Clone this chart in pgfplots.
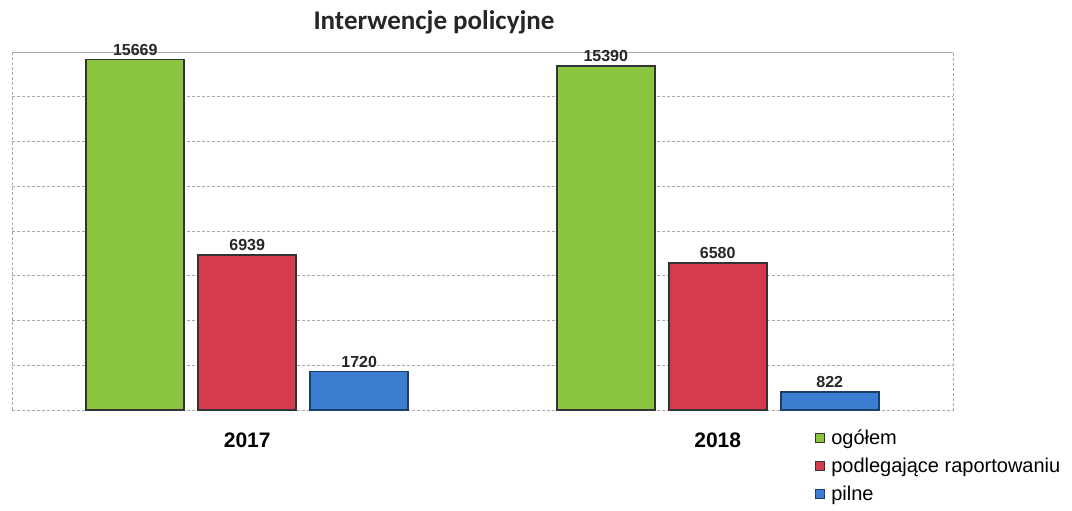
\documentclass[border=0pt]{standalone}
\usepackage{fontspec}
\setmainfont{Liberation Sans}
\newfontfamily\titlefont{Carlito}
\usepackage{pgfplots}
\pgfplotsset{compat=1.18}
\definecolor{ogol}{HTML}{8BC53F}
\definecolor{podl}{HTML}{D63A4F}
\definecolor{piln}{HTML}{3A7DD1}
\definecolor{gridc}{HTML}{A8A8A8}

\begin{document}
\begin{tikzpicture}
\useasboundingbox (-12pt,-101pt) rectangle (1060pt,410pt);
\begin{axis}[
  scale only axis, clip=false,
  width=941pt, height=358pt,
  ybar, bar width=98pt,
  xmin=-0.5, xmax=1.5,
  ymin=0, ymax=16000,
  xtick={0,1}, xticklabels={2017,2018},
  x tick label style={font=\fontsize{21}{24}\selectfont\bfseries, yshift=-19pt},
  ytick={0,2000,...,16000}, yticklabels={},
  scaled y ticks=false,
  major tick length=0pt,
  ymajorgrids, grid style={gridc, dash pattern=on 3pt off 2pt, line width=0.6pt},
  axis line style={gridc, dash pattern=on 3pt off 2pt, line width=0.6pt},
  nodes near coords,
  nodes near coords style={font=\fontsize{16}{19}\selectfont\bfseries, text=black!85, yshift=0pt},
  every node near coord/.append style={/pgf/number format/.cd, fixed, 1000 sep={}, assume math mode=true},
  legend style={at={(0.853,0)}, anchor=north west, yshift=-18pt, draw=none, fill=none,
    font=\fontsize{20}{23}\selectfont, row sep=8pt, inner sep=0pt},
  legend cell align=left,
  legend image code/.code={\draw[#1, line width=1pt] (0pt,-4.5pt) rectangle (9pt,4.5pt);
    \path (13pt,0pt);},
]
\addplot[fill=ogol, draw=black!80, line width=1.8pt, bar shift=-112pt] coordinates {(0,15669) (1,15390)};
\addlegendentry{ogółem}
\addplot[fill=podl, draw=black!80, line width=1.8pt, bar shift=0pt] coordinates {(0,6939) (1,6580)};
\addlegendentry{podlegające raportowaniu}
\addplot[fill=piln, draw=piln!50!black, line width=1.8pt, bar shift=112pt] coordinates {(0,1720) (1,822)};
\addlegendentry{pilne}
\node[font=\titlefont\fontsize{27}{30}\selectfont\bfseries, text=black!85, anchor=center]
  at (rel axis cs:0.4485,1) [yshift=30pt] {Interwencje policyjne};
\end{axis}
\end{tikzpicture}
\end{document}
